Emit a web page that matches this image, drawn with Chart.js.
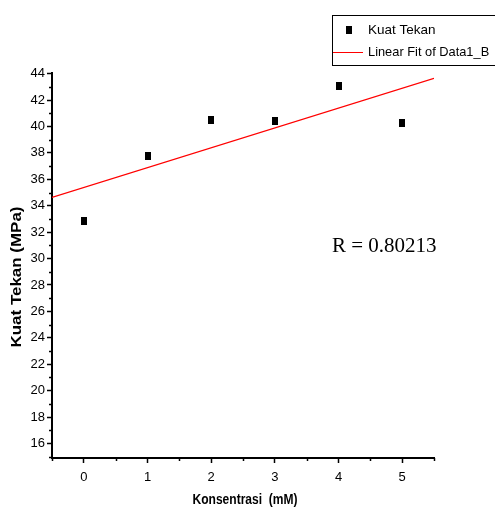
<!DOCTYPE html>
<html>
<head>
<meta charset="utf-8">
<script src="https://cdn.jsdelivr.net/npm/chart.js@4/dist/chart.umd.min.js"></script>
<style>
  body { margin: 0; background: #fff; }
  canvas { display: block; }
</style>
</head>
<body>
<canvas id="chart-1" width="495" height="509"></canvas>
<script>
// data
const konsentrasi = [0, 1, 2, 3, 4, 5];
const kuatTekan = [32.86, 37.78, 40.51, 40.44, 43.04, 40.23];
const fitX = [-0.5, 5.5];
const fitY = [34.63, 43.65];
const xTicks = [0, 1, 2, 3, 4, 5];
const xMinor = [-0.5, 0.5, 1.5, 2.5, 3.5, 4.5, 5.5];
const yTicks = [16, 18, 20, 22, 24, 26, 28, 30, 32, 34, 36, 38, 40, 42, 44];
const yMinor = [15, 17, 19, 21, 23, 25, 27, 29, 31, 33, 35, 37, 39, 41, 43];
const seriesLabel = 'Kuat Tekan';
const fitLabel = 'Linear Fit of Data1_B';
const rText = 'R = 0.80213';
const xTitle = 'Konsentrasi  (mM)';
const yTitle = 'Kuat Tekan (MPa)';

const canvas = document.querySelector('#chart-1');

// small black block used as the point marker
const marker = document.createElement('canvas');
marker.width = 6;
marker.height = 8;
marker.getContext('2d').fillRect(0, 0, 6, 8);

const tickFont = { family: 'Liberation Sans, Arial, sans-serif', size: 13 };

// write text squeezed/stretched to a given width
function fitText(ctx, text, cx, cy, width) {
  const w = ctx.measureText(text).width;
  ctx.save();
  ctx.translate(cx, cy);
  ctx.scale(width / w, 1);
  ctx.fillText(text, 0, 0);
  ctx.restore();
}

const extras = {
  id: 'extras',
  afterDraw(chart) {
    const ctx = chart.ctx;
    const x = chart.scales.x;
    const y = chart.scales.y;
    const area = chart.chartArea;
    ctx.save();

    // minor ticks
    ctx.strokeStyle = '#000';
    ctx.lineWidth = 1.5;
    ctx.beginPath();
    yMinor.forEach(v => {
      const py = Math.round(y.getPixelForValue(v)) + 0.5;
      ctx.moveTo(area.left - 3, py);
      ctx.lineTo(area.left, py);
    });
    xMinor.forEach(v => {
      const px = Math.round(x.getPixelForValue(v)) + 0.5;
      ctx.moveTo(px, area.bottom);
      ctx.lineTo(px, area.bottom + 3);
    });
    ctx.stroke();

    // axis titles
    ctx.fillStyle = '#000';
    ctx.textAlign = 'center';
    ctx.textBaseline = 'middle';
    ctx.font = 'bold 15px "Liberation Sans", Arial, sans-serif';
    fitText(ctx, xTitle, 245, 500, 105);

    ctx.save();
    ctx.translate(17, 277);
    ctx.rotate(-Math.PI / 2);
    ctx.font = 'bold 15px "Liberation Sans", Arial, sans-serif';
    fitText(ctx, yTitle, 0, 0, 141);
    ctx.restore();

    // R value
    ctx.textAlign = 'left';
    ctx.textBaseline = 'alphabetic';
    ctx.font = '21px "Liberation Serif", "Times New Roman", serif';
    ctx.fillText(rText, 332, 252);

    // legend box
    ctx.lineWidth = 1;
    ctx.strokeStyle = '#000';
    ctx.strokeRect(332.5, 15.5, 200, 50);
    ctx.drawImage(marker, 346, 26);
    ctx.strokeStyle = 'red';
    ctx.beginPath();
    ctx.moveTo(333, 52.5);
    ctx.lineTo(363, 52.5);
    ctx.stroke();
    ctx.font = '13.5px "Liberation Sans", Arial, sans-serif';
    ctx.textBaseline = 'middle';
    ctx.fillText(seriesLabel, 368, 30);
    ctx.save();
    ctx.translate(368, 52);
    ctx.scale(0.95, 1);
    ctx.fillText(fitLabel, 0, 0);
    ctx.restore();

    ctx.restore();
  }
};

new Chart(canvas, {
  type: 'scatter',
  data: {
    datasets: [{
      label: seriesLabel,
      data: konsentrasi.map((k, i) => ({ x: k, y: kuatTekan[i] })),
      pointStyle: marker,
      pointRadius: 4,
      backgroundColor: '#000',
      borderColor: '#000'
    }, {
      label: fitLabel,
      data: fitX.map((k, i) => ({ x: k, y: fitY[i] })),
      showLine: true,
      borderColor: 'red',
      borderWidth: 1.2,
      pointRadius: 0
    }]
  },
  options: {
    responsive: false,
    animation: false,
    layout: { padding: { top: 73, right: 61, left: 0, bottom: 0 } },
    plugins: { legend: { display: false }, tooltip: { enabled: false } },
    scales: {
      x: {
        type: 'linear',
        min: -0.5,
        max: 5.5,
        afterBuildTicks: s => { s.ticks = xTicks.map(v => ({ value: v })); },
        afterFit: s => { s.height = 51; },
        grid: { drawOnChartArea: false, tickLength: 5, tickColor: '#000', tickWidth: 1.5 },
        border: { color: '#000', width: 2 },
        ticks: { font: tickFont, color: '#000', padding: 7, maxRotation: 0 }
      },
      y: {
        min: 14.9,
        max: 44.05,
        afterBuildTicks: s => { s.ticks = yTicks.map(v => ({ value: v })); },
        afterFit: s => { s.width = 52; },
        grid: { drawOnChartArea: false, tickLength: 5, tickColor: '#000', tickWidth: 1.5 },
        border: { color: '#000', width: 2 },
        ticks: { font: tickFont, color: '#000', padding: 2 }
      }
    }
  },
  plugins: [extras]
});
</script>
</body>
</html>
